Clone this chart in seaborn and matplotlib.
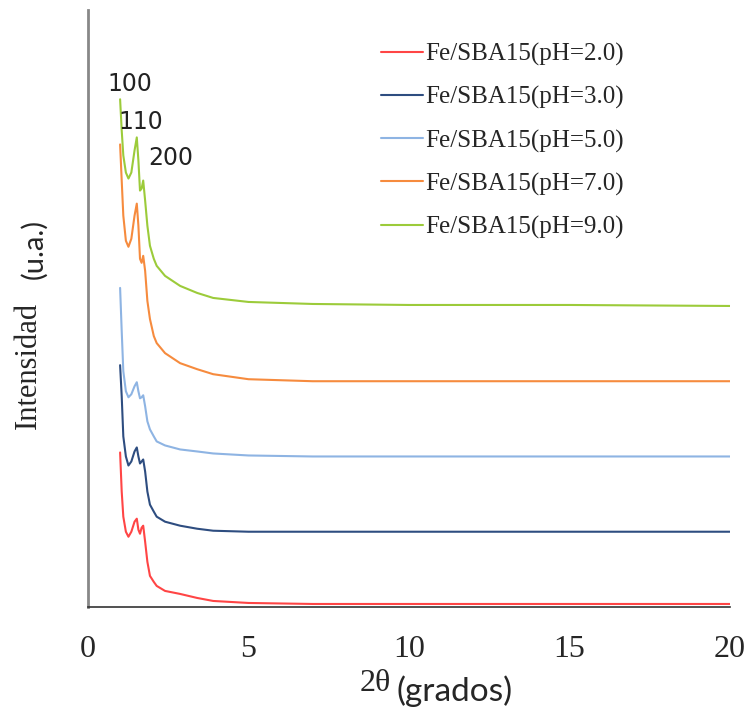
import numpy as np
import pandas as pd
import seaborn as sns
import matplotlib.pyplot as plt

# 2theta grid (degrees) shared by all patterns
two_theta = [1.0, 1.05, 1.1, 1.18, 1.26, 1.35, 1.45, 1.52, 1.57, 1.62, 1.67, 1.72, 1.78,
             1.85, 1.93, 2.05, 2.14, 2.4, 2.87, 3.4, 3.9, 5, 7, 10, 15, 20]

# intensities (a.u.), stacked patterns
i_ph2 = [154, 115, 90, 75, 70, 75, 85, 88, 77, 73, 79, 81, 65,
         45, 31, 25, 21, 16, 13, 9, 6, 4, 3, 3, 3, 3]
i_ph3 = [241, 210, 170, 150, 141, 145, 155, 159, 150, 143, 145, 147, 135,
         115, 102, 95, 90, 85, 81, 78, 76, 75, 75, 75, 75, 75]
i_ph5 = [318, 275, 235, 215, 209, 212, 220, 224, 215, 208, 209, 211, 200,
         185, 177, 170, 165, 161, 157, 155, 153, 151, 150, 150, 150, 150]
i_ph7 = [461, 425, 390, 365, 359, 367, 390, 402, 380, 347, 343, 350, 335,
         305, 287, 270, 263, 253, 243, 237, 232, 227, 225, 225, 225, 225]
i_ph9 = [506, 475, 450, 433, 427, 433, 455, 468, 445, 415, 417, 425, 405,
         380, 360, 347, 340, 330, 320, 313, 308, 304, 302, 301, 301, 300]

series_names = ["Fe/SBA15(pH=2.0)", "Fe/SBA15(pH=3.0)", "Fe/SBA15(pH=5.0)",
                "Fe/SBA15(pH=7.0)", "Fe/SBA15(pH=9.0)"]
series_vals = [i_ph2, i_ph3, i_ph5, i_ph7, i_ph9]
colors = ["#FF4545", "#2E4D80", "#8EB4E3", "#F68B3E", "#9CCB3A"]

# peak labels (hkl)
peak_labels = ["100", "110", "200"]
peak_x = [1.31, 1.65, 2.59]
peak_y = [521, 483, 447]

df = pd.concat([pd.DataFrame({"x": two_theta, "y": v, "serie": n})
                for n, v in zip(series_names, series_vals)])

sns.set_style("white")
fig = plt.figure(figsize=(7.49, 7.13), dpi=100)
ax = fig.add_axes([0.1175, 0.1487, 0.857, 0.8373])

sns.lineplot(data=df, x="x", y="y", hue="serie", palette=colors, linewidth=1.5,
             ax=ax, sort=False)

ax.set_xlim(0, 20)
ax.set_ylim(0, 595)
ax.set_xticks([0, 5, 10, 15, 20])
ax.set_yticks([])
ax.set_xlabel("")
ax.set_ylabel("")
for lab in ax.get_xticklabels():
    lab.set_fontfamily("Liberation Serif")
    lab.set_fontsize(23)
ax.tick_params(axis="x", direction="out", length=6, width=1.2, color="#333333", pad=14)
ax.spines["top"].set_visible(False)
ax.spines["right"].set_visible(False)
ax.spines["left"].set_color("#888888")
ax.spines["left"].set_linewidth(2)
ax.spines["bottom"].set_color("#333333")
ax.spines["bottom"].set_linewidth(1.2)

for t, x, y in zip(peak_labels, peak_x, peak_y):
    ax.text(x, y, t, ha="center", va="center", fontsize=17, color="#222222",
            family="DejaVu Sans")

ax.legend(loc="upper left", bbox_to_anchor=(0.422, 0.982), frameon=False,
          handlelength=1.65, handletextpad=0.1, labelspacing=0.8,
          prop={"family": "Liberation Serif", "size": 18})

# axis titles: mixed serif / sans like the original
fig.text(0.522, 0.041, "2θ", ha="right", va="center", family="Liberation Serif", fontsize=23)
fig.text(0.530, 0.030, "(grados)", ha="left", va="center", family="Lato", fontsize=24)
fig.text(0.038, 0.487, "Intensidad", ha="center", va="center", rotation=90,
         family="Liberation Serif", fontsize=22)
fig.text(0.045, 0.651, "(u.a.)", ha="center", va="center", rotation=90,
         family="Lato", fontsize=21)

fig.savefig("out.png", dpi=100)
